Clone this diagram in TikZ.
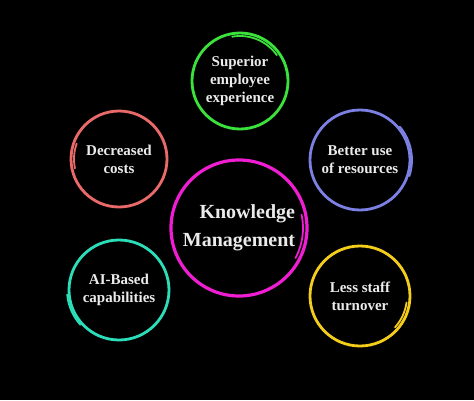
\documentclass[tikz,border=0pt]{standalone}
\usepackage{fontspec}
\setmainfont{Liberation Serif}
\usepackage{xcolor}
\definecolor{kmpink}{HTML}{F01ED2}
\definecolor{supgreen}{HTML}{3CE23C}
\definecolor{costred}{HTML}{EA6A6A}
\definecolor{resblue}{HTML}{7C80E2}
\definecolor{aiteal}{HTML}{2BDDB8}
\definecolor{staffyellow}{HTML}{F4CD1C}
\tikzset{
  ring/.style={circle, draw=#1, line width=2.8pt, text=white!92!black, align=center,
    font=\fontsize{15}{18}\selectfont\bfseries, inner sep=0pt, minimum size=100pt},
  tail/.style={draw=#1, line width=1.8pt, line cap=round}
}

\begin{document}
\begin{tikzpicture}[x=1pt,y=1pt]
    \fill[black] (0,0) rectangle (474,400);
    \useasboundingbox (0,0) rectangle (474,400);

    % centre
    \node[ring=kmpink, line width=3.2pt, minimum size=136pt, align=right,
      font=\fontsize{20}{28}\selectfont\bfseries] at (239,172) (km){Knowledge\\Management};
    \draw[tail=kmpink] (km.center) ++(12:64) arc[start angle=12, end angle=-28, radius=64];

    % outer circles
    \node[ring=supgreen, minimum size=96pt] at (240,319) (sup){Superior\\employee\\experience};
    \draw[tail=supgreen] (sup.center) ++(100:45) arc[start angle=100, end angle=35, radius=45];

    \node[ring=costred, minimum size=96pt] at (119,241) (cost){Decreased\\costs};
    \draw[tail=costred] (cost.center) ++(160:45) arc[start angle=160, end angle=192, radius=45];

    \node[ring=resblue] at (360,240) (res){Better use\\of resources};
    \draw[tail=resblue] (res.center) ++(40:52) arc[start angle=40, end angle=-18, radius=52];

    \node[ring=aiteal] at (119,110) (ai){AI-Based\\capabilities};
    \draw[tail=aiteal] (ai.center) ++(185:52) arc[start angle=185, end angle=222, radius=52];

    \node[ring=staffyellow] at (360,104) (staff){Less staff\\turnover};
    \draw[tail=staffyellow] (staff.center) ++(-8:47) arc[start angle=-8, end angle=-42, radius=47];
\end{tikzpicture}
\end{document}
